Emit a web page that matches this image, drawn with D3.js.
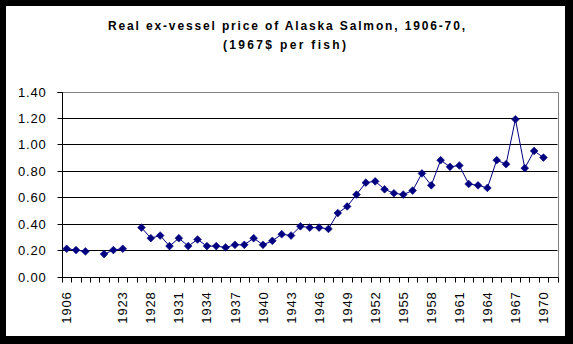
<!DOCTYPE html>
<html>
<head>
<meta charset="utf-8">
<script src="https://cdn.jsdelivr.net/npm/d3@7"></script>
<style>
  html, body { margin: 0; padding: 0; background: #000; }
  svg { display: block; }
  text { font-family: Arial, "Liberation Sans", sans-serif; }
</style>
</head>
<body>
<svg id="chart" width="573" height="344"></svg>
<script>
// Season labels (blank entries are years with no observation)
const years = [
  "1906", "1907", "1908", "", "1921", "1922", "1923", "", "1927", "1928",
  "1929", "1930", "1931", "1932", "1933", "1934", "1935", "1936", "1937", "1938",
  "1939", "1940", "1941", "1942", "1943", "1944", "1945", "1946", "1947", "1948",
  "1949", "1950", "1951", "1952", "1953", "1954", "1955", "1956", "1957", "1958",
  "1959", "1960", "1961", "1962", "1963", "1964", "1965", "1966", "1967", "1968",
  "1969", "1970", ""
];

// Real ex-vessel price, 1967 dollars per fish
const price = [
  0.21, 0.20, 0.19, null, 0.17, 0.20, 0.21, null, 0.37, 0.29,
  0.31, 0.23, 0.29, 0.23, 0.28, 0.23, 0.23, 0.22, 0.24, 0.24,
  0.29, 0.24, 0.27, 0.32, 0.31, 0.38, 0.37, 0.37, 0.36, 0.48,
  0.53, 0.62, 0.71, 0.72, 0.66, 0.63, 0.62, 0.65, 0.78, 0.69,
  0.88, 0.83, 0.84, 0.70, 0.69, 0.67, 0.88, 0.85, 1.19, 0.82,
  0.95, 0.90, null
];

const yTicks = [0, 0.2, 0.4, 0.6, 0.8, 1.0, 1.2, 1.4];
const titleLines = ["Real ex-vessel price of Alaska Salmon, 1906-70,", "(1967$ per fish)"];

const svg = d3.select("#chart");
const plot = { left: 62, right: 557.5, top: 91.5, bottom: 276.5 };
const navy = "#000080";

// chart area panel
svg.append("rect").attr("x", 6).attr("y", 6).attr("width", 559).attr("height", 330)
  .attr("fill", "#fff");

// title
const titleSpecs = [
  { x: 286.5, y: 29.5, len: 357 },
  { x: 284.5, y: 49, len: 123 }
];
titleLines.forEach((t, i) => {
  svg.append("text")
    .attr("x", titleSpecs[i].x).attr("y", titleSpecs[i].y)
    .attr("text-anchor", "middle")
    .attr("font-size", "12px").attr("font-weight", "bold")
    .attr("textLength", titleSpecs[i].len).attr("lengthAdjust", "spacing")
    .attr("fill", "#000")
    .text(t);
});

// scales
const n = years.length;
const x = d3.scaleLinear().domain([0, n]).range([plot.left, plot.right]);
const y = d3.scaleLinear().domain([0, 1.4]).range([plot.bottom, plot.top]);

// horizontal gridlines
svg.append("g").selectAll("line")
  .data(yTicks.filter(v => v > 0 && v < 1.4))
  .join("line")
  .attr("x1", plot.left).attr("x2", plot.right)
  .attr("y1", d => Math.round(y(d)) + 0.5).attr("y2", d => Math.round(y(d)) + 0.5)
  .attr("stroke", "#000").attr("stroke-width", 1);

// plot area border (top and right in grey)
const yTop = Math.round(y(1.4)) + 0.5;
const yBot = Math.round(y(0)) + 0.5;
svg.append("path")
  .attr("d", `M${plot.left},${yTop}H${Math.round(plot.right) + 0.5}V${yBot}`)
  .attr("fill", "none").attr("stroke", "#808080").attr("stroke-width", 1);

// value axis
const yAxis = d3.axisLeft(y).tickValues(yTicks).tickFormat(d3.format(".2f"))
  .tickSize(5).tickPadding(11);
const gy = svg.append("g").attr("transform", `translate(${Math.round(plot.left) + 0.5},0.5)`).call(yAxis);
gy.select(".domain").attr("stroke", "#000").attr("d", `M-5,${Math.round(y(1.4))}H0V${Math.round(y(0))}`);
gy.selectAll(".tick").attr("transform", d => `translate(0,${Math.round(y(d))})`);
gy.selectAll(".tick line").attr("stroke", "#000");
gy.selectAll(".tick text")
  .attr("font-size", "13px").attr("fill", "#000")
  .attr("letter-spacing", "0.8px")
  .attr("font-family", "Arial, 'Liberation Sans', sans-serif");

// category axis: ticks at every category boundary
const gx = svg.append("g").attr("transform", `translate(0,${yBot})`);
gx.append("line").attr("x1", plot.left).attr("x2", Math.round(plot.right) + 0.5)
  .attr("y1", 0).attr("y2", 0).attr("stroke", "#000");
gx.selectAll("line.tk").data(d3.range(n + 1)).join("line").attr("class", "tk")
  .attr("x1", d => Math.round(x(d)) + 0.5).attr("x2", d => Math.round(x(d)) + 0.5)
  .attr("y1", 0).attr("y2", 5).attr("stroke", "#000");

// labels on every third category, rotated
gx.selectAll("text").data(d3.range(0, n, 3).filter(i => years[i] !== ""))
  .join("text")
  .attr("transform", i => `translate(${x(i + 0.5)},${14}) rotate(-90)`)
  .attr("dy", "0.35em")
  .attr("text-anchor", "end")
  .attr("font-size", "13px")
  .attr("letter-spacing", "0.8px")
  .attr("fill", "#000")
  .text(i => years[i]);

// price series
const pts = price.map((v, i) => ({ i, v }));
const line = d3.line()
  .defined(d => d.v !== null)
  .x(d => x(d.i + 0.5))
  .y(d => y(d.v));

svg.append("path").datum(pts)
  .attr("d", line)
  .attr("fill", "none").attr("stroke", navy).attr("stroke-width", 1);

const diamond = d3.symbol().type(d3.symbolDiamond2).size(38);
svg.append("g").selectAll("path")
  .data(pts.filter(d => d.v !== null))
  .join("path")
  .attr("transform", d => `translate(${x(d.i + 0.5)},${y(d.v)})`)
  .attr("d", diamond)
  .attr("fill", navy).attr("stroke", navy).attr("stroke-width", 0.6);
</script>
</body>
</html>
